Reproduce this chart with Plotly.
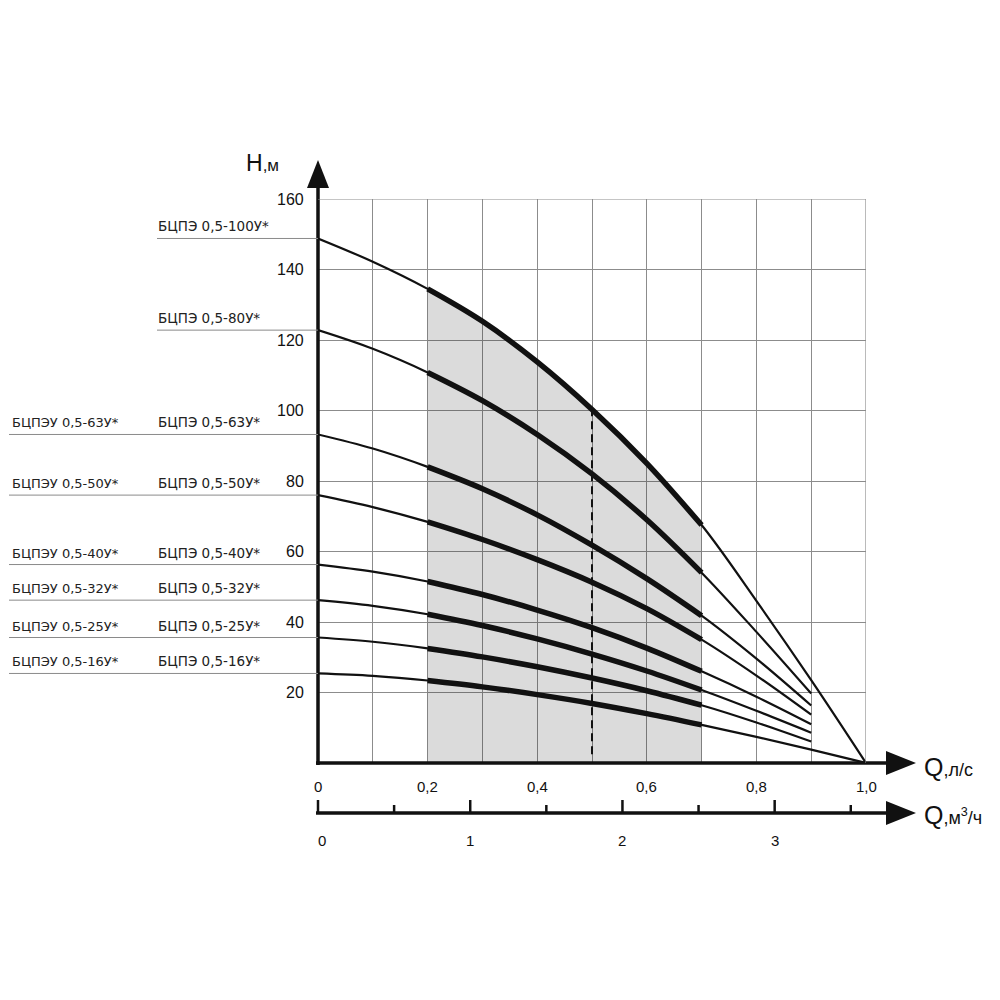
import plotly.graph_objects as go

# ---------------- data ----------------
Q_LS = [0.0, 0.1, 0.2, 0.3, 0.4, 0.5, 0.6, 0.7, 0.8, 0.9, 1.0]

H_100U = [148.8, 142.2, 134.5, 125.3, 113.8, 100.3, 85.0, 67.5, 46.0, 23.5, 0.0]
H_80U = [122.8, 117.5, 110.8, 102.8, 93.2, 82.0, 69.0, 54.0, 37.2, 19.7]
H_63U = [93.2, 89.2, 84.0, 77.8, 70.4, 61.8, 52.3, 41.8, 29.6, 16.3]
H_50U = [76.0, 72.6, 68.4, 63.4, 57.7, 51.3, 43.8, 35.0, 24.8, 13.7]
H_40U = [56.3, 54.3, 51.5, 47.8, 43.4, 38.4, 32.6, 26.0, 18.8, 11.0]
H_32U = [46.2, 44.6, 42.2, 39.0, 35.2, 30.9, 26.1, 20.7, 14.8, 8.6]
H_25U = [35.6, 34.4, 32.5, 30.1, 27.3, 24.1, 20.5, 16.4, 11.5, 6.1]
H_16U = [25.4, 24.7, 23.4, 21.6, 19.4, 16.9, 14.0, 10.8, 7.4, 3.8, 0.0]

PUMP_MODELS = ["100", "80", "63", "50", "40", "32", "25", "16"]
PUMP_CURVES = [H_100U, H_80U, H_63U, H_50U, H_40U, H_32U, H_25U, H_16U]
LABELS_BCPE = ["БЦПЭ 0,5-%sУ*" % m for m in PUMP_MODELS]
LABELS_BCPEU = [None, None] + ["БЦПЭУ 0,5-%sУ*" % m for m in PUMP_MODELS[2:]]

WORK_ZONE = [0.2, 0.7]     # л/с, recommended working range
Q_DASHED = 0.5             # л/с

X_TICKS = [0.0, 0.2, 0.4, 0.6, 0.8, 1.0]
X_TICK_TEXT = ["0", "0,2", "0,4", "0,6", "0,8", "1,0"]
Y_TICKS = [20, 40, 60, 80, 100, 120, 140, 160]
Y_TICK_TEXT = ["20", "40", "60", "80", "100", "120", "140", "160"]
M3H_MAJOR = [0, 1, 2, 3]
M3H_MAJOR_TEXT = ["0", "1", "2", "3"]
M3H_MINOR = [0.5, 1.5, 2.5, 3.5]
LS_PER_M3H = 1 / 3.6

# ---------------- geometry helpers (reference pixel -> paper) ----------------
OFF = 8   # page body margin
L, R, T, B = 318, 866, 199, 763
def xp(px):
    return (px - L) / (R - L)
def yp(py):
    return (B - py) / (B - T)

FONT = "Liberation Sans, Arial, sans-serif"
LFONT = "DejaVu Sans, Liberation Sans, sans-serif"
INK = "#111111"

fig = go.Figure()

def in_zone(q):
    return WORK_ZONE[0] - 1e-9 <= q <= WORK_ZONE[1] + 1e-9

# shaded working zone under the top curve
zq = [q for q in Q_LS if in_zone(q)]
zh = [h for q, h in zip(Q_LS, H_100U) if in_zone(q)]
fig.add_trace(go.Scatter(x=zq, y=zh, mode="lines", fill="tozeroy",
                         fillcolor="rgba(0,0,0,0.14)",
                         line=dict(width=0, shape="spline", color="rgba(0,0,0,0)"),
                         hoverinfo="skip", showlegend=False))

# dashed line at Q = 0.5
h_at = H_100U[Q_LS.index(Q_DASHED)]
fig.add_trace(go.Scatter(x=[Q_DASHED, Q_DASHED], y=[2.5, h_at], mode="lines",
                         line=dict(color=INK, width=2, dash="8px,5px"),
                         hoverinfo="skip", showlegend=False))

# curves
for name, h in zip(PUMP_MODELS, PUMP_CURVES):
    q = Q_LS[:len(h)]
    fig.add_trace(go.Scatter(x=q, y=h, mode="lines", name=name,
                             line=dict(color=INK, width=2.2, shape="spline", smoothing=1.0),
                             cliponaxis=False, hoverinfo="skip", showlegend=False))
    sq = [a for a in q if in_zone(a)]
    sh = [b for a, b in zip(q, h) if in_zone(a)]
    fig.add_trace(go.Scatter(x=sq, y=sh, mode="lines",
                             line=dict(color=INK, width=5.5, shape="spline", smoothing=1.0),
                             hoverinfo="skip", showlegend=False))

shapes = []
ann = []

# axes (arrows)
shapes.append(dict(type="line", xref="paper", yref="paper", x0=0, x1=0,
                   y0=yp(765), y1=yp(180), line=dict(color=INK, width=3.5)))
shapes.append(dict(type="path", xref="paper", yref="paper",
                   path="M %f,%f L %f,%f L %f,%f Z" % (xp(307), yp(188), xp(318), yp(160), xp(329), yp(188)),
                   fillcolor=INK, line=dict(width=0)))
for ypx in (763, 813):
    shapes.append(dict(type="line", xref="paper", yref="paper", x0=xp(316), x1=xp(895),
                       y0=yp(ypx), y1=yp(ypx), line=dict(color=INK, width=3.5)))
    shapes.append(dict(type="path", xref="paper", yref="paper",
                       path="M %f,%f L %f,%f L %f,%f Z" % (xp(886), yp(ypx - 12), xp(916), yp(ypx), xp(886), yp(ypx + 12)),
                       fillcolor=INK, line=dict(width=0)))

# m3/h axis ticks and labels
for v in M3H_MAJOR:
    shapes.append(dict(type="line", xref="paper", yref="paper", x0=v * LS_PER_M3H, x1=v * LS_PER_M3H,
                       y0=yp(813), y1=yp(800), line=dict(color=INK, width=2.5)))
for v in M3H_MINOR:
    shapes.append(dict(type="line", xref="paper", yref="paper", x0=v * LS_PER_M3H, x1=v * LS_PER_M3H,
                       y0=yp(813), y1=yp(805), line=dict(color=INK, width=2.5)))
for v, t in zip(M3H_MAJOR, M3H_MAJOR_TEXT):
    ann.append(dict(x=v * LS_PER_M3H + (xp(322) if v == 0 else 0), y=yp(840), xref="paper", yref="paper",
                    text=t, showarrow=False, xanchor="center", yanchor="middle",
                    font=dict(family=FONT, size=15, color=INK)))

# x tick labels
for v, t in zip(X_TICKS, X_TICK_TEXT):
    ann.append(dict(x=v, y=yp(786), xref="paper", yref="paper", text=t, showarrow=False,
                    xanchor="center", yanchor="middle", font=dict(family=FONT, size=15, color=INK)))
# y tick labels
for v, t in zip(Y_TICKS, Y_TICK_TEXT):
    ann.append(dict(x=xp(306), y=v / 160, xref="paper", yref="paper", text=t, showarrow=False,
                    xanchor="right", yanchor="middle", font=dict(family=FONT, size=16, color=INK)))

# axis titles
ann.append(dict(x=xp(262), y=yp(163), xref="paper", yref="paper", showarrow=False,
                text="H<span style='font-size:17px'>,м</span>", xanchor="center", yanchor="middle",
                font=dict(family=FONT, size=23, color=INK)))
ann.append(dict(x=xp(922), y=yp(767), xref="paper", yref="paper", showarrow=False,
                text="Q<span style='font-size:18px'>,л/с</span>", xanchor="left", yanchor="middle",
                font=dict(family=FONT, size=25, color=INK)))
ann.append(dict(x=xp(922), y=yp(815), xref="paper", yref="paper", showarrow=False,
                text="Q<span style='font-size:18px'>,м<sup>3</sup>/ч</span>", xanchor="left", yanchor="middle",
                font=dict(family=FONT, size=25, color=INK)))

# pump labels with underlines
for h, lab_r, lab_l in zip(PUMP_CURVES, LABELS_BCPE, LABELS_BCPEU):
    y0 = h[0] / 160
    start = xp(OFF + 1) if lab_l else xp(157)
    shapes.append(dict(type="line", xref="paper", yref="paper", x0=start, x1=0, y0=y0, y1=y0,
                       line=dict(color="#8a8a8a", width=1)))
    ann.append(dict(x=xp(156), y=y0 + 2 / 564, xref="paper", yref="paper", text=lab_r, showarrow=False,
                    xanchor="left", yanchor="bottom", font=dict(family=LFONT, size=13.5, color="#222")))
    if lab_l:
        ann.append(dict(x=xp(OFF + 2), y=y0 + 2 / 564, xref="paper", yref="paper", text=lab_l, showarrow=False,
                        xanchor="left", yanchor="bottom", font=dict(family=LFONT, size=13, color="#222")))

fig.update_layout(
    width=1000, height=1000,
    margin=dict(l=L - OFF, r=1000 - (R - OFF), t=T - OFF, b=1000 - (B - OFF)),
    paper_bgcolor="white", plot_bgcolor="white",
    showlegend=False,
    xaxis=dict(range=[0, 1], dtick=0.1, tick0=0, showgrid=True, gridcolor="#8c8c8c", gridwidth=1.2,
               showticklabels=False, zeroline=False, showline=False, ticks="", fixedrange=True),
    yaxis=dict(range=[0, 160], dtick=20, tick0=0, showgrid=True, gridcolor="#8c8c8c", gridwidth=1.2,
               showticklabels=False, zeroline=False, showline=False, ticks="", fixedrange=True),
    shapes=shapes, annotations=ann,
)
# right and top border grid lines (Q=1.0 and H=160)
fig.add_shape(type="line", xref="x", yref="y", x0=1, x1=1, y0=0, y1=160, line=dict(color="#8c8c8c", width=1.2))
fig.add_shape(type="line", xref="x", yref="y", x0=0, x1=1, y0=160, y1=160, line=dict(color="#8c8c8c", width=1.2))

fig.write_html("out.html")
